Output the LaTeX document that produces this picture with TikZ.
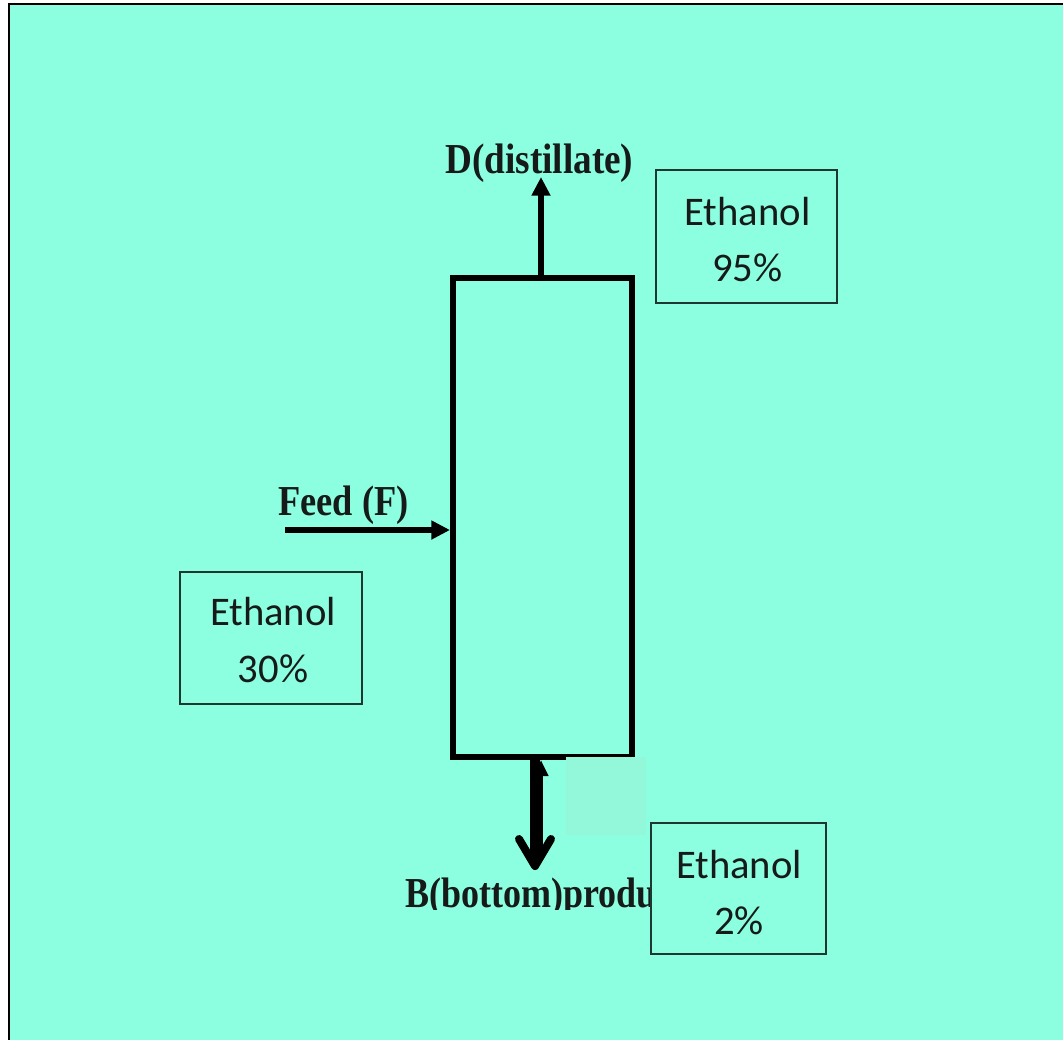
\documentclass[tikz,border=0pt]{standalone}
\usepackage{fontspec}
\setmainfont{Liberation Serif}
\newfontfamily\carl{Carlito}
\usetikzlibrary{arrows.meta}
\definecolor{aqua}{RGB}{140,255,225}
\definecolor{aqualt}{RGB}{147,247,218}
\definecolor{boxline}{RGB}{30,55,48}
\definecolor{txtdark}{RGB}{22,26,24}
\begin{document}
\begin{tikzpicture}[x=0.75pt,y=-0.75pt,
  colbox/.style={draw=black,line width=4.5pt,inner sep=0pt,minimum width=134.25pt,minimum height=359.25pt},
  infobox/.style={draw=boxline,fill=aqua,line width=1.5pt,inner sep=0pt},
  lbl/.style={font=\carl\fontsize{30.5}{36}\selectfont,text=txtdark,inner sep=0pt,anchor=base},
  ttl/.style={font=\bfseries\fontsize{32}{38}\selectfont,text=txtdark,inner sep=0pt,anchor=base west},
  flow/.style={line width=4.3pt,-{Triangle[length=14pt,width=13.5pt]}},
]
\useasboundingbox (0,0) rectangle (1063,1040);
\fill[white] (0,0) rectangle (1063,1040);
\fill[aqua] (9,4) rectangle (1063,1040);
\draw[line width=2.2pt] (9,1040) -- (9,4) -- (1063,4);

% column
\node[colbox] (col) at (542.5,517.5) {};

% top distillate arrow
\coordinate (dtip) at (541,177);
\draw[flow] (dtip |- col.north) -- (dtip);
\node[ttl] (dlab) at (445,173) {\scalebox{0.872}[1]{D(distillate)}};

% feed arrow
\coordinate (fs) at (285,530);
\draw[flow] (fs) -- (fs -| col.west);
\node[ttl] (flab) at (278,515) {\scalebox{0.853}[1]{Feed (F)}};

% bottom arrows
\coordinate (bshaft) at (535,866);
\coordinate (btip) at (535,866);
\coordinate (bl) at (519,839);
\coordinate (br) at (551,839);
\coordinate (ts) at (541,855);
\coordinate (ttip) at (541,760);
\draw[line width=3pt,-{Triangle[length=12pt,width=10.5pt]}] (ts) -- (ttip);
\draw[line width=6.8pt] (bshaft |- col.south) -- (bshaft);
\draw[line width=6pt,line cap=round,line join=round] (bl) -- (btip) -- (br);

% light patch
\fill[aqualt] (566,756.5) rectangle (646,835);

% bottom label (clipped)
\begin{scope}
\clip (0,0) rectangle (1063,909);
\node[ttl] (blab) at (405,907) {\scalebox{0.844}[1]{B(bottom)product}};
\end{scope}

% info boxes
\node[infobox,minimum width=135.75pt,minimum height=99.75pt] (b95) at (746.5,236.5) {};
\node[lbl] (b95a) at (747.5,225) {Ethanol};
\node[lbl] (b95b) at (747.5,281) {95\%};

\node[infobox,minimum width=136.5pt,minimum height=99pt] (b30) at (271,638) {};
\node[lbl] (b30a) at (273,625) {Ethanol};
\node[lbl] (b30b) at (273,682) {30\%};

\node[infobox,minimum width=131.25pt,minimum height=98.25pt] (b2) at (738.5,888.5) {};
\node[lbl] (b2a) at (739,878) {Ethanol};
\node[lbl] (b2b) at (739,934) {2\%};
\end{tikzpicture}
\end{document}
